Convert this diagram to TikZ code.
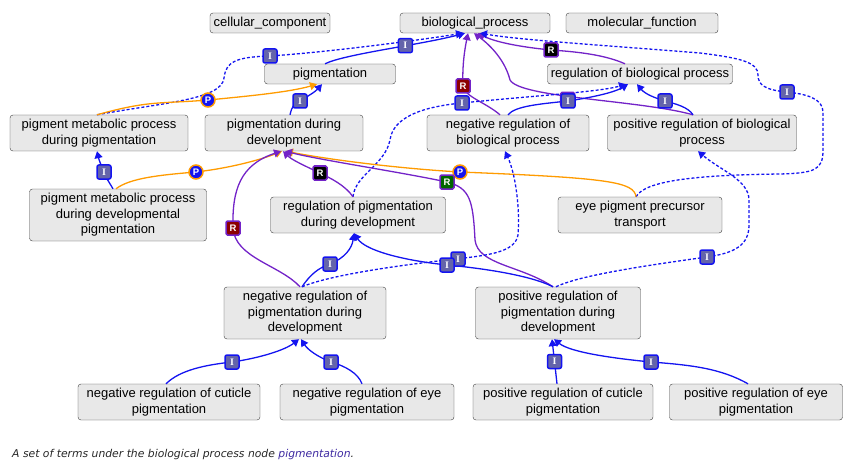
\documentclass[tikz,border=0pt]{standalone}
\usepackage{fontspec}
\setmainfont{Liberation Sans}
\newfontfamily\capfont{DejaVu Sans}
\newfontfamily\labserif{Liberation Serif}
\usetikzlibrary{arrows.meta}
\definecolor{isablue}{RGB}{20,20,240}
\definecolor{regpurple}{RGB}{115,35,200}
\definecolor{partorange}{RGB}{255,155,0}
\definecolor{labgray}{RGB}{100,100,170}
\definecolor{linkblue}{RGB}{60,40,160}

\begin{document}
\begin{tikzpicture}[
    x=1pt, y=-1pt,
    term/.style={rectangle, draw=black!75, fill=black!9, rounded corners=3pt, align=center, font=\fontsize{13}{15.5}\selectfont, minimum height=20pt, inner sep=1pt},
    two/.style={minimum height=36pt},
    three/.style={minimum height=52pt},
    edge/.style={line width=1.3pt, -{Triangle[length=7pt,width=8pt]}},
    isa/.style={edge, draw=isablue},
    isadash/.style={isa, dash pattern=on 3pt off 2pt},
    partof/.style={edge, draw=partorange},
    reg/.style={edge, draw=regpurple},
    tag/.style={minimum size=14pt, inner sep=0pt, line width=1.5pt, text=white, font=\fontsize{9.5}{9.5}\selectfont\bfseries},
    ilab/.style={tag, rectangle, rounded corners=2pt, draw=isablue, fill=labgray, font=\fontsize{10}{10}\labserif\bfseries},
    plab/.style={tag, circle, draw=partorange, fill=isablue},
    rlab/.style={tag, rectangle, rounded corners=1.5pt, draw=regpurple, fill=black},
    rneg/.style={rlab, fill=red!55!black},
    rpos/.style={rlab, fill=green!40!black}
]
\useasboundingbox (0,0) rectangle (850,465);

% terms
\node[term, minimum width=120pt] (cc) at (270,23) {cellular\_component};
\node[term, minimum width=150pt] (bp) at (475,23) {biological\_process};
\node[term, minimum width=152pt] (mf) at (642,23) {molecular\_function};
\node[term, minimum width=131pt] (pig) at (330,74) {pigmentation};
\node[term, minimum width=185pt] (rbp) at (640,74) {regulation of biological process};
\node[term, two, minimum width=178pt] (pmpdp) at (99,133) {pigment metabolic process\\during pigmentation};
\node[term, two, minimum width=158pt] (pdd) at (284,133) {pigmentation during\\development};
\node[term, two, minimum width=162pt] (nrbp) at (508,133) {negative regulation of\\biological process};
\node[term, two, minimum width=189pt] (prbp) at (702,133) {positive regulation of biological\\process};
\node[term, three, minimum width=177pt] (pmpddp) at (118,215) {pigment metabolic process\\during developmental\\pigmentation};
\node[term, two, minimum width=175pt] (rpdd) at (358,215) {regulation of pigmentation\\during development};
\node[term, two, minimum width=164pt] (eppt) at (640,215) {eye pigment precursor\\transport};
\node[term, three, minimum width=162pt] (nrpdd) at (305,313) {negative regulation of\\pigmentation during\\development};
\node[term, three, minimum width=165pt] (prpdd) at (558,313) {positive regulation of\\pigmentation during\\development};
\node[term, two, minimum width=182pt] (nrcp) at (169,402) {negative regulation of cuticle\\pigmentation};
\node[term, two, minimum width=174pt] (nrep) at (367,402) {negative regulation of eye\\pigmentation};
\node[term, two, minimum width=180pt] (prcp) at (563,402) {positive regulation of cuticle\\pigmentation};
\node[term, two, minimum width=173pt] (prep) at (756,402) {positive regulation of eye\\pigmentation};

% connectors
\draw[isa] ([xshift=-5pt]pig.north) .. controls (345,54) and (420,45) .. coordinate[pos=0.62] (m1) ([xshift=-10pt]bp.south);
\draw[isadash] ([xshift=-2pt]pmpdp.north) .. controls (160,103) and (222,100) .. (224,78) .. controls (226,62) and (235,57) .. (270,56) coordinate (m2) .. controls (330,52) and (420,40) .. ([xshift=-12pt]bp.south);
\draw[partof] ([xshift=-2pt]pmpdp.north) .. controls (150,100) and (160,104) .. (208,100) coordinate (m3) .. controls (250,96) and (290,92) .. ([xshift=-13pt]pig.south);
\draw[isa] ([xshift=6pt]pdd.north) .. controls (292,106) and (294,104) .. (300,101) coordinate (m4) .. controls (308,96) and (315,92) .. ([xshift=-8pt]pig.south);
\draw[reg] ([xshift=-15pt]rbp.north) .. controls (605,55) and (580,52) .. (551,50) coordinate (m5) .. controls (520,47) and (495,42) .. ([xshift=3pt]bp.south);
\draw[reg] ([xshift=-8pt]nrbp.north) .. controls (485,102) and (465,97) .. (463,86) coordinate (m6) .. controls (462,65) and (465,48) .. ([xshift=-7pt]bp.south);
\draw[reg] ([xshift=-9pt]prbp.north) .. controls (640,100) and (520,98) .. coordinate[pos=0.58] (m7) (510,80) .. controls (505,60) and (490,45) .. ([xshift=-1pt]bp.south);
\draw[isa] (nrbp.north) .. controls (515,106) and (540,104) .. (568,101) coordinate (m8) .. controls (595,97) and (615,92) .. ([xshift=-12pt]rbp.south);
\draw[isa] ([xshift=-9pt]prbp.north) .. controls (688,107) and (676,104) .. (665,101) coordinate (m9) .. controls (655,98) and (645,94) .. ([xshift=-3pt]rbp.south);
\draw[isadash] ([xshift=-5pt]rpdd.north) .. controls (355,175) and (385,165) .. (390,140) .. controls (393,118) and (420,107) .. (462,103) coordinate (m10) .. controls (530,96) and (600,92) .. ([xshift=-14pt]rbp.south);
\draw[isadash] ([xshift=-4pt]eppt.north) .. controls (645,180) and (700,175) .. (780,174) .. controls (815,173) and (823,170) .. (823,150) -- (823,112) .. controls (823,98) and (805,94) .. (787,92) coordinate (m11) .. controls (765,90) and (758,85) .. (758,75) .. controls (758,62) and (740,58) .. (700,53) .. controls (600,45) and (520,40) .. ([xshift=5pt]bp.south);
\draw[partof] ([xshift=-4pt]eppt.north) .. controls (634,182) and (610,178) .. (460,172) coordinate (m12) .. controls (390,168) and (320,158) .. ([xshift=2pt]pdd.south);
\draw[isa] ([xshift=-5pt]pmpddp.north) .. controls (109,182) and (106,178) .. (104,172) coordinate (m13) .. controls (101,165) and (99,160) .. ([xshift=-2pt]pmpdp.south);
\draw[partof] ([xshift=-2pt]pmpddp.north) .. controls (130,178) and (160,175) .. (196,172) coordinate (m14) .. controls (230,168) and (260,160) .. ([xshift=-2pt]pdd.south);
\draw[reg] ([xshift=-5pt]nrpdd.north) .. controls (280,265) and (235,258) .. (233,228) coordinate (m15) .. controls (232,190) and (240,165) .. ([xshift=-3pt]pdd.south);
\draw[reg] ([xshift=-5pt]rpdd.north) .. controls (345,185) and (330,178) .. (320,173) coordinate (m16) .. controls (305,166) and (292,160) .. ([xshift=-1pt]pdd.south);
\draw[reg] ([xshift=-5pt]prpdd.north) .. controls (520,265) and (478,265) .. (475,240) .. controls (473,200) and (470,188) .. (447,182) coordinate (m17) .. controls (400,172) and (320,160) .. ([xshift=1pt]pdd.south);
\draw[isa] ([xshift=-3pt]nrpdd.north) .. controls (310,275) and (318,268) .. (330,264) coordinate (m18) .. controls (345,258) and (352,248) .. ([xshift=-4pt]rpdd.south);
\draw[isadash] ([xshift=-3pt]nrpdd.north) .. controls (330,275) and (400,265) .. (456,259) coordinate (m20) .. controls (490,255) and (515,252) .. (518,235) .. controls (520,210) and (516,175) .. ([xshift=-3pt]nrbp.south);
\draw[isa] ([xshift=-5pt]prpdd.north) .. controls (530,275) and (480,268) .. (447,265) coordinate (m19) .. controls (400,260) and (365,250) .. ([xshift=-4pt]rpdd.south);
\draw[isadash] ([xshift=-2pt]prpdd.north) .. controls (580,275) and (650,265) .. (707,257) coordinate (m21) .. controls (735,253) and (749,245) .. (749,225) -- (749,200) .. controls (749,180) and (720,170) .. ([xshift=-4pt]prbp.south);
\draw[isa] ([xshift=-3pt]nrcp.north) .. controls (180,370) and (205,365) .. (232,362) coordinate (m22) .. controls (260,358) and (285,350) .. ([xshift=-6pt]nrpdd.south);
\draw[isa] ([xshift=-5pt]nrep.north) .. controls (358,373) and (345,366) .. (331,362) coordinate (m23) .. controls (318,357) and (308,350) .. ([xshift=-4pt]nrpdd.south);
\draw[isa] ([xshift=-6pt]prcp.north) -- coordinate[pos=0.5] (m24) ([xshift=-6pt]prpdd.south);
\draw[isa] ([xshift=-8pt]prep.north) .. controls (720,368) and (690,365) .. (651,362) coordinate (m25) .. controls (610,358) and (570,352) .. ([xshift=-4pt]prpdd.south);

% relation tags
\node[ilab] (l1) at (m1) {I};
\node[ilab] (l2) at (m2) {I};
\node[plab] (l3) at (m3) {P};
\node[ilab] (l4) at (m4) {I};
\node[rlab] (l5) at (m5) {R};
\node[rneg] (l6) at (m6) {R};
\node[rpos] (l7) at ([yshift=-3pt]m7) {R};
\node[ilab] (l8) at (m8) {I};
\node[ilab] (l9) at (m9) {I};
\node[ilab] (l10) at (m10) {I};
\node[ilab] (l11) at (m11) {I};
\node[plab] (l12) at (m12) {P};
\node[ilab] (l13) at (m13) {I};
\node[plab] (l14) at (m14) {P};
\node[rneg] (l15) at (m15) {R};
\node[rlab] (l16) at (m16) {R};
\node[rpos] (l17) at (m17) {R};
\node[ilab] (l18) at (m18) {I};
\node[ilab] (l20) at ([xshift=2pt]m20) {I};
\node[ilab] (l19) at (m19) {I};
\node[ilab] (l21) at (m21) {I};
\node[ilab] (l22) at (m22) {I};
\node[ilab] (l23) at (m23) {I};
\node[ilab] (l24) at (m24) {I};
\node[ilab] (l25) at (m25) {I};

% caption
\node[anchor=west, inner sep=0pt, text=black!85, font=\capfont\itshape\fontsize{10.8}{12}\selectfont] (cap) at (12,455) {A set of terms under the biological process node \textcolor{linkblue}{pigmentation}.};
\end{tikzpicture}
\end{document}
